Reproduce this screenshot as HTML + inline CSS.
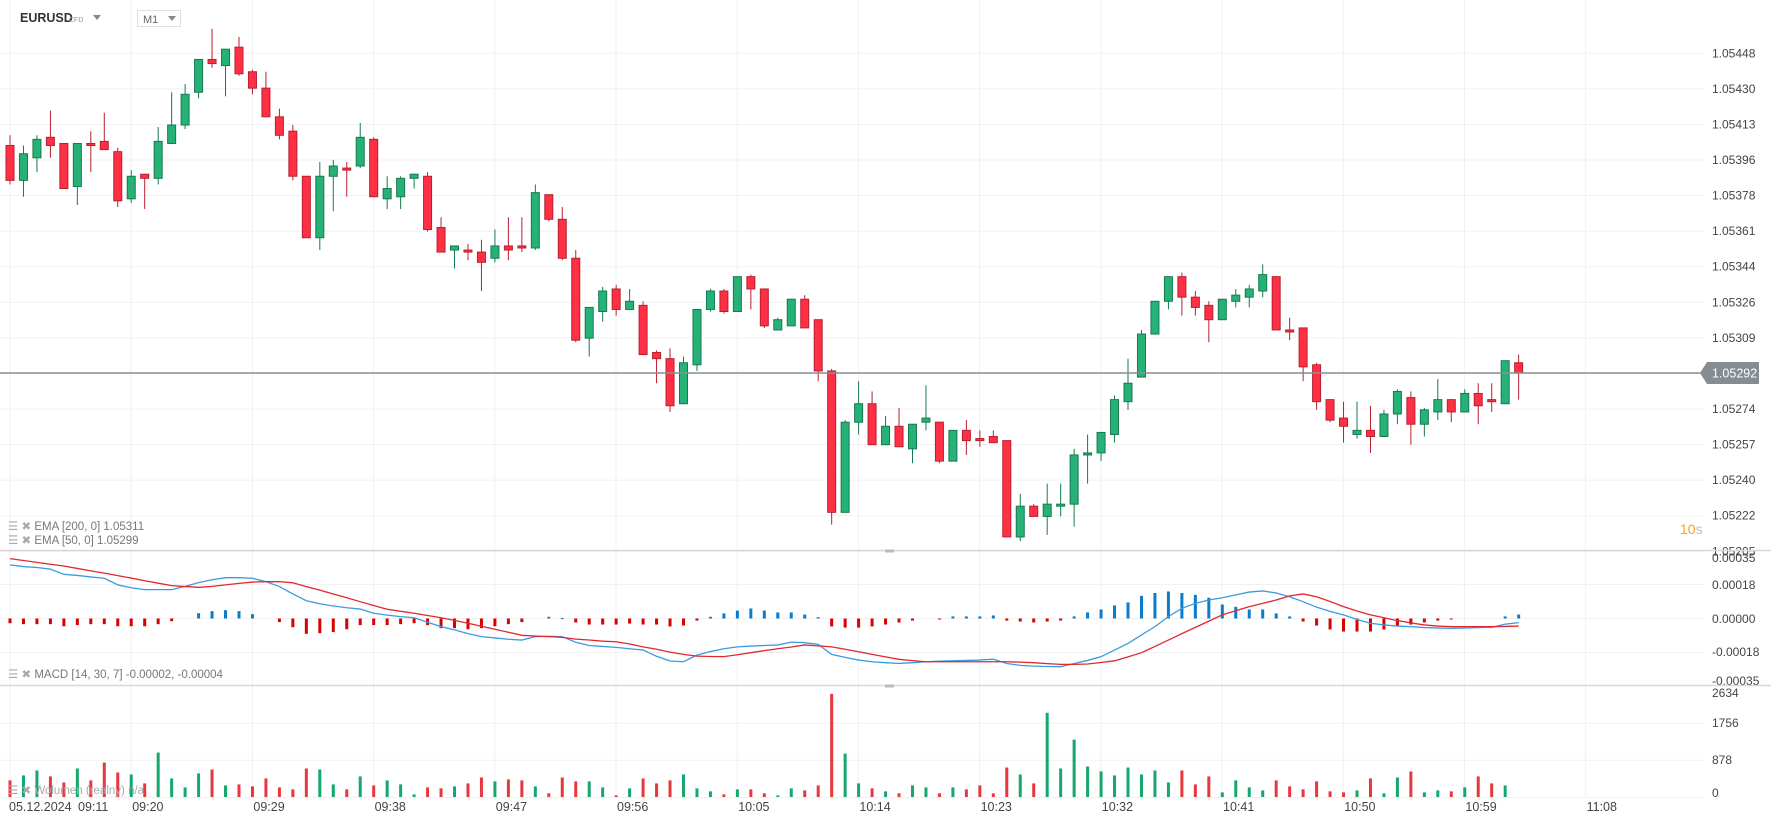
<!DOCTYPE html>
<html><head><meta charset="utf-8"><style>
html,body{margin:0;padding:0;background:#fff;}
body{width:1771px;height:824px;overflow:hidden;font-family:"Liberation Sans",sans-serif;}
svg text{font-family:"Liberation Sans",sans-serif;}
</style></head><body>
<svg id="chart" width="1771" height="824" xmlns="http://www.w3.org/2000/svg">
<g id="grid"></g>
<g id="vol"></g>
<g id="macd"></g>
<g id="candles"></g>
<g id="axes"></g>
<g>
 <text x="20" y="22" font-size="12.5" font-weight="bold" fill="#333">EURUSD</text>
 <text x="69" y="22" font-size="7" fill="#999">CFD</text>
 <path d="M93 15 L101 15 L97 20 Z" fill="#888"/>
 <rect x="137.5" y="10.5" width="43" height="16" fill="#fff" stroke="#e0e0e0"/>
 <text x="143" y="23" font-size="11" fill="#666">M1</text>
 <path d="M168 16 L176 16 L172 21 Z" fill="#888"/>
</g>
<g font-size="11.5" fill="#777">
 <text x="8" y="530"><tspan fill="#aaa">☰ ✖</tspan> EMA [200,  0] 1.05311</text>
 <text x="8" y="544"><tspan fill="#aaa">☰ ✖</tspan> EMA [50,  0] 1.05299</text>
 <text x="8" y="678"><tspan fill="#aaa">☰ ✖</tspan> MACD [14,  30,  7] -0.00002,  -0.00004</text>
 <text x="8" y="794" fill="#aaa"><tspan>☰ ✖</tspan> Wolumen  (realny)  n/a</text>
</g>
<text x="1680" y="534" font-size="14"><tspan fill="#f7a21b">10</tspan><tspan fill="#bbb">s</tspan></text>
</svg>
<script>
const opens=[1.05403,1.05386,1.05397,1.05407,1.05404,1.05383,1.05404,1.05405,1.05400,1.05377,1.05389,1.05387,1.05404,1.05413,1.05429,1.05445,1.05442,1.05451,1.05439,1.05431,1.05417,1.05410,1.05388,1.05358,1.05388,1.05392,1.05393,1.05406,1.05377,1.05378,1.05387,1.05388,1.05363,1.05352,1.05352,1.05351,1.05348,1.05354,1.05354,1.05353,1.05379,1.05367,1.05348,1.05309,1.05322,1.05333,1.05323,1.05325,1.05302,1.05299,1.05277,1.05296,1.05323,1.05332,1.05322,1.05339,1.05333,1.05313,1.05315,1.05328,1.05318,1.05293,1.05224,1.05268,1.05277,1.05257,1.05266,1.05255,1.05268,1.05268,1.05249,1.05264,1.05260,1.05261,1.05259,1.05212,1.05227,1.05222,1.05227,1.05228,1.05252,1.05253,1.05262,1.05278,1.05290,1.05311,1.05327,1.05339,1.05329,1.05325,1.05318,1.05327,1.05329,1.05332,1.05339,1.05313,1.05314,1.05296,1.05279,1.05270,1.05262,1.05264,1.05261,1.05272,1.05280,1.05267,1.05273,1.05279,1.05273,1.05282,1.05279,1.05277,1.05297];
const highs=[1.05408,1.05403,1.05408,1.05420,1.05404,1.05404,1.05410,1.05419,1.05402,1.05391,1.05389,1.05412,1.05429,1.05433,1.05445,1.05460,1.05450,1.05456,1.05440,1.05439,1.05421,1.05413,1.05388,1.05395,1.05396,1.05395,1.05414,1.05407,1.05388,1.05388,1.05389,1.05390,1.05368,1.05354,1.05355,1.05357,1.05362,1.05368,1.05368,1.05384,1.05379,1.05373,1.05352,1.05324,1.05334,1.05335,1.05333,1.05327,1.05303,1.05304,1.05300,1.05323,1.05333,1.05333,1.05339,1.05340,1.05333,1.05319,1.05328,1.05330,1.05318,1.05294,1.05269,1.05288,1.05283,1.05271,1.05275,1.05267,1.05286,1.05268,1.05264,1.05269,1.05264,1.05264,1.05259,1.05233,1.05228,1.05238,1.05238,1.05255,1.05262,1.05263,1.05281,1.05299,1.05313,1.05327,1.05339,1.05341,1.05332,1.05327,1.05328,1.05333,1.05335,1.05345,1.05339,1.05319,1.05314,1.05297,1.05279,1.05278,1.05278,1.05276,1.05274,1.05284,1.05283,1.05275,1.05289,1.05279,1.05284,1.05287,1.05287,1.05298,1.05301];
const lows=[1.05384,1.05378,1.05390,1.05397,1.05382,1.05374,1.05390,1.05401,1.05373,1.05375,1.05372,1.05384,1.05404,1.05411,1.05426,1.05441,1.05427,1.05437,1.05428,1.05417,1.05406,1.05386,1.05358,1.05352,1.05371,1.05378,1.05392,1.05378,1.05372,1.05372,1.05382,1.05361,1.05351,1.05343,1.05347,1.05332,1.05346,1.05347,1.05351,1.05352,1.05366,1.05347,1.05307,1.05300,1.05317,1.05320,1.05323,1.05301,1.05287,1.05273,1.05277,1.05293,1.05322,1.05321,1.05322,1.05323,1.05314,1.05313,1.05315,1.05314,1.05288,1.05218,1.05224,1.05262,1.05257,1.05257,1.05256,1.05248,1.05264,1.05248,1.05249,1.05252,1.05256,1.05258,1.05212,1.05210,1.05222,1.05213,1.05222,1.05217,1.05238,1.05249,1.05258,1.05274,1.05290,1.05311,1.05323,1.05320,1.05320,1.05307,1.05318,1.05324,1.05324,1.05329,1.05313,1.05308,1.05288,1.05274,1.05268,1.05258,1.05260,1.05253,1.05261,1.05267,1.05257,1.05261,1.05269,1.05268,1.05273,1.05267,1.05273,1.05277,1.05279];
const closes=[1.05386,1.05399,1.05406,1.05403,1.05382,1.05404,1.05403,1.05401,1.05376,1.05388,1.05387,1.05405,1.05413,1.05428,1.05445,1.05443,1.05450,1.05438,1.05431,1.05417,1.05408,1.05388,1.05358,1.05388,1.05393,1.05391,1.05407,1.05378,1.05382,1.05387,1.05389,1.05362,1.05351,1.05354,1.05351,1.05346,1.05354,1.05352,1.05353,1.05380,1.05367,1.05348,1.05308,1.05324,1.05332,1.05323,1.05327,1.05301,1.05299,1.05276,1.05297,1.05323,1.05332,1.05322,1.05339,1.05333,1.05315,1.05318,1.05328,1.05314,1.05293,1.05224,1.05268,1.05277,1.05257,1.05266,1.05256,1.05267,1.05270,1.05249,1.05264,1.05259,1.05259,1.05258,1.05212,1.05227,1.05222,1.05228,1.05228,1.05252,1.05253,1.05263,1.05279,1.05287,1.05311,1.05327,1.05339,1.05329,1.05324,1.05318,1.05328,1.05330,1.05333,1.05340,1.05313,1.05312,1.05295,1.05278,1.05269,1.05266,1.05264,1.05261,1.05272,1.05283,1.05267,1.05274,1.05279,1.05273,1.05282,1.05276,1.05278,1.05298,1.05292];
const volumes=[394,512,630,488,346,677,394,818,582,535,323,1055,441,228,559,653,275,299,252,441,228,181,677,653,299,181,488,275,394,299,63,228,205,252,323,464,370,417,394,252,87,464,370,370,228,39,205,441,323,394,535,205,134,63,181,181,87,39,205,157,275,2448,1031,323,205,134,87,275,228,87,228,181,275,87,700,535,323,1999,677,1362,724,606,512,700,535,630,346,630,299,488,110,394,228,157,394,252,181,370,134,110,157,441,87,464,606,110,157,134,228,488,323,275,0];
// MACD values in units of 0.00001
const macdLine=[28.4,27.5,27,26.1,23.4,22.8,22,21.3,17.8,16.3,15.3,15.3,15.3,17,19,20.5,21.6,21.6,21.3,19.5,16.9,13,9.4,7.8,6.6,5.7,5,2.8,1.8,1,0.4,-2,-4.3,-6,-8,-9.6,-10.3,-11,-11.4,-9.6,-9.4,-9.6,-12.6,-14.3,-14.8,-15.3,-16,-16.7,-20,-22.5,-22.9,-19.4,-17.5,-16,-15,-14.6,-14.3,-14,-12.5,-12.8,-13.7,-19,-20.6,-22,-22.9,-23.4,-23.8,-23.4,-22.9,-22.6,-22.4,-22.2,-22,-21.5,-23.8,-24.8,-25.2,-25.4,-25.5,-23.8,-22.2,-20.2,-16.7,-13.2,-8.7,-4.3,1,5.4,8,9.8,11,12.5,14,14.6,13.5,11.5,8.9,6,3.8,1.9,-0.5,-2.5,-3.4,-4,-4.3,-4.8,-5,-5.2,-5,-4.8,-4.7,-3,-2.2];
const signalLine=[31.7,30.7,29.7,28.7,27.8,26.5,25.2,24,22.7,21.4,20,18.7,17.4,16.9,16.5,17,17.8,18.6,19.3,19.5,19.5,18.9,16.9,15,13,11,8.9,6.9,4.9,3.8,2.8,1.6,0.4,-1,-2.5,-4.1,-5.7,-7.3,-8.9,-9.3,-9.6,-10,-10.9,-11.4,-12,-12.3,-13.5,-15,-16.3,-17.8,-19,-19.9,-20.1,-20.2,-19.2,-18.1,-17,-16,-15.1,-14,-14.5,-15,-16.3,-17.6,-19,-20.3,-21.6,-22.3,-22.9,-22.9,-22.9,-22.9,-22.9,-22.9,-22.9,-23.1,-23.4,-23.9,-24.3,-24.3,-24.1,-23.3,-22.4,-20.3,-18.1,-14.8,-11.4,-8,-4.7,-1.4,1.9,4.1,6.3,8,9.8,12,13,11.5,9,6.3,4,1.9,0.4,-1.1,-2.3,-3.4,-4,-4.3,-4.3,-4.3,-4.3,-4.2,-4];
const histogram=[-2.5,-3,-3,-3,-4.1,-3.5,-3,-3,-4.1,-4.1,-4.1,-3,-1.4,0,2.8,3.9,4.4,3.9,2.3,0,-1.9,-4.6,-8.1,-7.8,-7.2,-5.7,-3.5,-3.5,-3.5,-3,-2.5,-3.5,-5.1,-5.1,-5.7,-5.1,-4.1,-3,-1.9,0,0.9,0.2,-2.1,-3.2,-3.2,-3.2,-2.7,-3.2,-3.2,-4.2,-3.7,-1.1,0.9,2.7,4.2,5.3,4.2,3.2,3.2,2.1,0.7,-4.2,-4.8,-4.8,-4.2,-3.2,-2.1,-1.1,0,-0.5,1.1,1.1,1.1,1.6,-1.1,-1.6,-2.1,-1.6,-1.1,1.1,3.2,4.8,6.9,8.5,12,13.5,14.3,13.5,12.5,11,7.4,6.2,4.8,4.8,2.7,1.1,-1.6,-3.7,-5.8,-6.9,-6.9,-6.9,-5.8,-3.7,-3.2,-2.1,-1.1,-0.5,0,0,0,1.1,2.1];
const priceTicks=["1.05448","1.05430","1.05413","1.05396","1.05378","1.05361","1.05344","1.05326","1.05309","","1.05274","1.05257","1.05240","1.05222","1.05205"];
const macdTicks=["0.00035","0.00018","0.00000","-0.00018","-0.00035"];
const volTicks=["2634","1756","878","0"];
const timeLabels=["09:11","09:20","09:29","09:38","09:47","09:56","10:05","10:14","10:23","10:32","10:41","10:50","10:59","11:08"];
const currentPrice=1.05292;

const NS="http://www.w3.org/2000/svg";
function mk(tag,attrs,parent){const e=document.createElementNS(NS,tag);for(const k in attrs)e.setAttribute(k,attrs[k]);parent.appendChild(e);return e;}
const xOf=i=>10+i*13.47;
const yP=p=>53.3+(1.05448-p)*204930;
const yM=v=>618.5-v*1.889;
const yV=v=>797-v*0.04214;
const grid=document.getElementById('grid'),axes=document.getElementById('axes');

// horizontal grid price
for(let k=0;k<15;k++){const y=53.3+35.57*k;const l=mk('line',{x1:0,x2:1705,y1:y,y2:y,stroke:'#f1f1f1','stroke-width':1},grid);

if(priceTicks[k]){const t=mk('text',{x:1712,y:y+4,'font-size':12,fill:'#444'},axes);t.textContent=priceTicks[k];
}}
// vertical grid
for(let k=0;k<14;k++){const x=10+121.2*k;const l=mk('line',{x1:x,x2:x,y1:0,y2:798,stroke:'#f1f1f1','stroke-width':1},grid);
}
// macd grid
[584.5,618.5,652.5].forEach(y=>{const l=mk('line',{x1:0,x2:1705,y1:y,y2:y,stroke:'#f1f1f1'},grid);});
[558,585,619,652,681].forEach((y,i)=>{const t=mk('text',{x:1712,y:y+4,'font-size':12,fill:'#444'},axes);t.textContent=macdTicks[i];});
// volume grid
[723.3,760.3,797.5].forEach(y=>{const l=mk('line',{x1:0,x2:1705,y1:y,y2:y,stroke:'#f1f1f1'},grid);});
[693,723,760,793].forEach((y,i)=>{const t=mk('text',{x:1712,y:y+4,'font-size':12,fill:'#444'},axes);t.textContent=volTicks[i];});
// separators
[550.5,685.5].forEach(y=>{const l=mk('line',{x1:0,x2:1771,y1:y,y2:y,stroke:'#d8d8d8','stroke-width':1.5},axes);
const h=mk('rect',{x:885,y:y-1,width:9,height:3,fill:'#bbb'},axes);});
// time labels
const d=mk('text',{x:9,y:811,'font-size':12.5,fill:'#444'},axes);d.textContent='05.12.2024';
timeLabels.forEach((s,k)=>{const x=k===0?78:10+121.2*k+1;const t=mk('text',{x:x,y:811,'font-size':12.5,fill:'#444'},axes);t.textContent=s;});

// volume
const vol=document.getElementById('vol');
volumes.forEach((v,i)=>{if(!v)return;const up=closes[i]>=opens[i];const r=mk('rect',{x:xOf(i)-1.5,y:yV(v),width:3,height:797-yV(v),fill:up?'#14a86d':'#e8373d'},vol);
});

// macd
const mg=document.getElementById('macd');
histogram.forEach((v,i)=>{if(!v)return;const y0=yM(0),y1=yM(v);const r=mk('rect',{x:xOf(i)-1.5,y:Math.min(y0,y1),width:3,height:Math.max(1,Math.abs(y1-y0)),fill:v>0?'#0a7ccc':'#d90000'},mg);
});
const pm=mk('polyline',{points:macdLine.map((v,i)=>xOf(i)+','+yM(v)).join(' '),fill:'none',stroke:'#3b9be0','stroke-width':1.3},mg);

const ps=mk('polyline',{points:signalLine.map((v,i)=>xOf(i)+','+yM(v)).join(' '),fill:'none',stroke:'#e0282e','stroke-width':1.3},mg);


// candles
const cg=document.getElementById('candles');
opens.forEach((o,i)=>{const c=closes[i],up=c>=o;const x=xOf(i);
const stroke=up?'#157a50':'#b8202e',fill=up?'#26b277':'#ff3046';
const w=mk('line',{x1:x,x2:x,y1:yP(highs[i]),y2:yP(lows[i]),stroke:stroke,'stroke-width':1},cg);

const top=yP(Math.max(o,c)),bot=yP(Math.min(o,c));
const b=mk('rect',{x:x-4,y:top,width:8,height:Math.max(1.5,bot-top),fill:fill,stroke:stroke,'stroke-width':1},cg);
});

// current price line + label
const cy=yP(currentPrice);
const cl=mk('line',{x1:0,x2:1702,y1:cy,y2:cy,stroke:'#8a8f92','stroke-width':1.5},axes);

const cp=mk('path',{d:`M1700 ${cy} L1707 ${cy-11} L1759 ${cy-11} L1759 ${cy+11} L1707 ${cy+11} Z`,fill:'#848d92'},axes);

const ct=mk('text',{x:1712,y:cy+4.5,'font-size':12.5,fill:'#fff'},axes);ct.textContent=currentPrice.toFixed(5);

</script>
</body></html>
